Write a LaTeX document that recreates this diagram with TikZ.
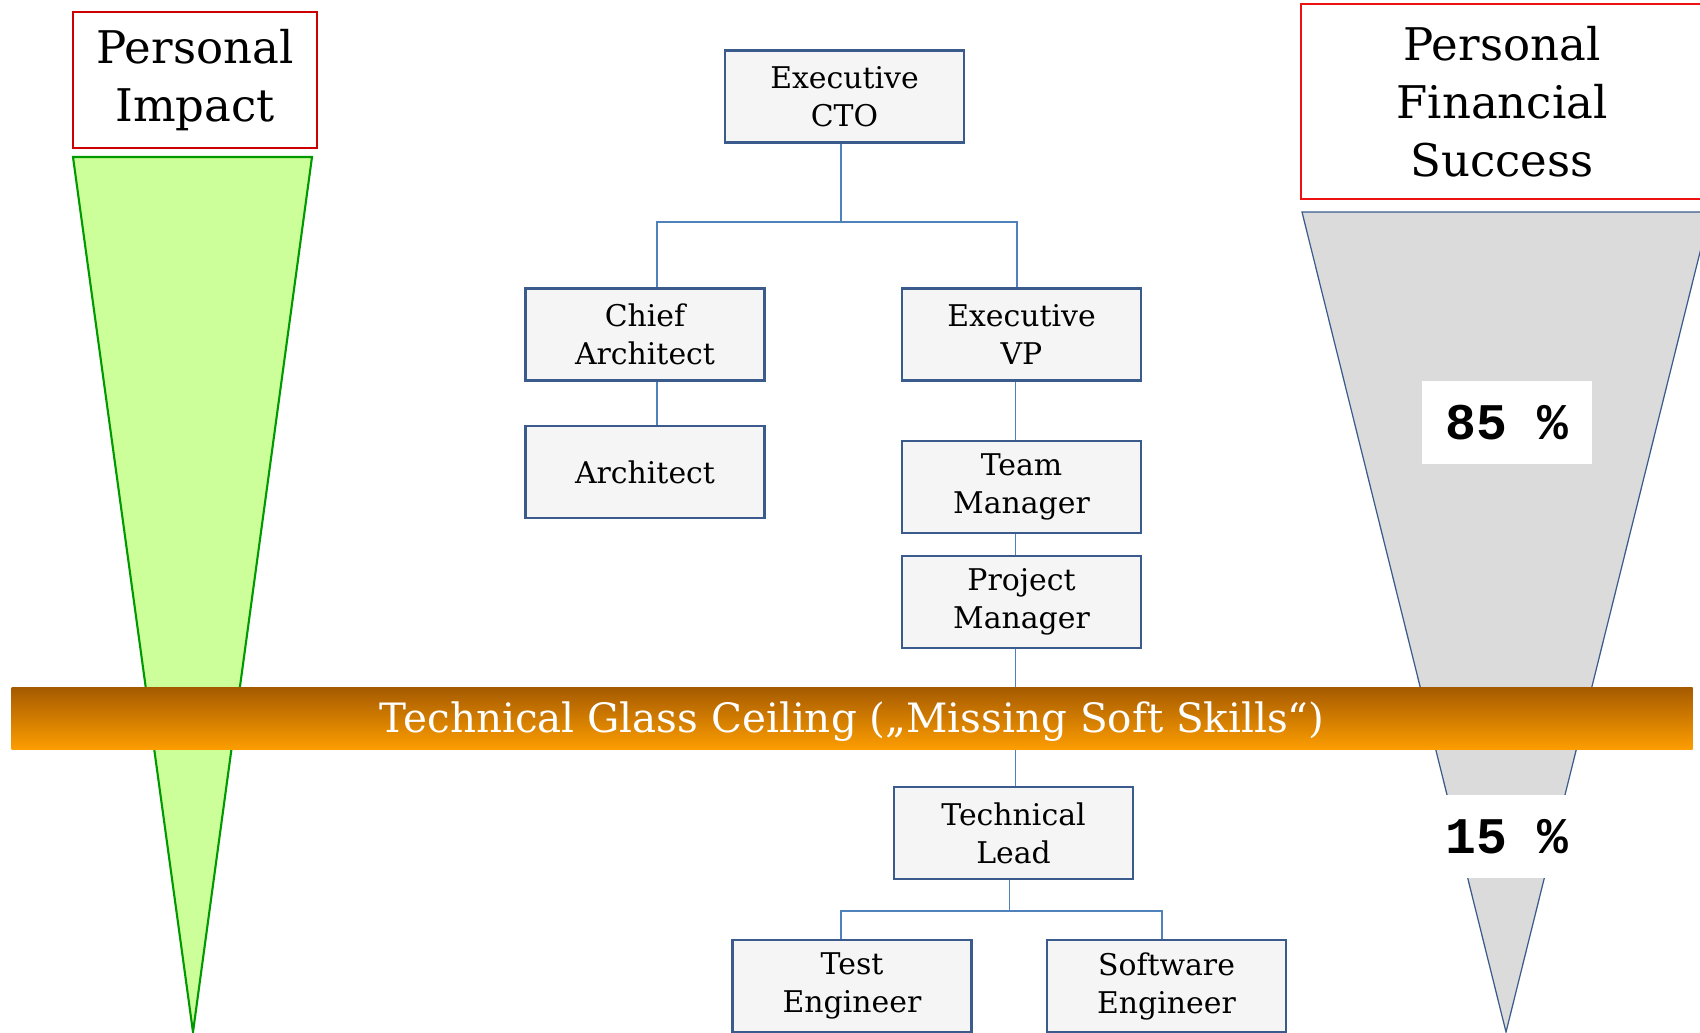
\documentclass[tikz,border=0pt]{standalone}
\usepackage{fontspec}
\setmainfont{DejaVu Serif}
\newfontfamily\pctfont{Liberation Mono}
\usetikzlibrary{positioning}

\definecolor{roleline}{HTML}{3B5B8C}
\definecolor{rolefill}{HTML}{F5F5F5}
\definecolor{linkblue}{HTML}{4F81BD}
\definecolor{impactfill}{HTML}{CCFF99}
\definecolor{impactline}{HTML}{009900}
\definecolor{moneyfill}{HTML}{DBDBDB}
\definecolor{ceilingtop}{HTML}{A55A00}
\definecolor{ceilingbottom}{HTML}{FC9D00}
\definecolor{darkred}{HTML}{CC0000}
\definecolor{brightred}{HTML}{EE1111}

\begin{document}
\begin{tikzpicture}[
  x=0.01cm, y=-0.01cm,
  role/.style={rectangle,draw=roleline,fill=rolefill,line width=0.75pt,
    minimum width=2.39cm,minimum height=0.92cm,inner sep=0pt,align=center,
    font=\fontsize{8.5}{10.8}\selectfont},
  link/.style={draw=linkblue,line width=0.55pt},
  headbox/.style={rectangle,draw,line width=0.6pt,inner sep=0pt,align=center,
    font=\fontsize{12.8}{16.5}\selectfont},
  pct/.style={rectangle,fill=white,inner sep=0pt,minimum width=1.7cm,
    minimum height=0.83cm,font=\pctfont\bfseries\fontsize{14.6}{16}\selectfont}
]
\useasboundingbox (0,0) rectangle (1700,1032);

% funnels
\draw[impactline,fill=impactfill,line width=0.6pt] (73,157) -- (312,157) -- (193,1032) -- cycle;
\draw[roleline,fill=moneyfill,line width=0.35pt] (1302,212) -- (1710,212) -- (1506,1032) -- cycle;

% headings
\node[headbox,draw=darkred,minimum width=2.44cm,minimum height=1.36cm] (impact) at (195,80) {Personal\\Impact};
\node[headbox,draw=brightred,minimum width=4.02cm,minimum height=1.95cm] (success) at (1502,101.5) {Personal\\Financial\\Success};

% org chart
\node[role] (cto)   at (844.5,96.5) {Executive\\CTO};
\node[role] (chief) at (645,334.5)  {Chief\\Architect};
\node[role] (vp)    at (1021.5,334.5) {Executive\\VP};
\node[role] (arch)  at (645,472)    {Architect};
\node[role] (team)  at (1021.5,487) {Team\\Manager};
\node[role] (proj)  at (1021.5,602) {Project\\Manager};
\node[role] (lead)  at (1013.5,833) {Technical\\Lead};
\node[role] (test)  at (852,986)    {Test\\Engineer};
\node[role] (soft)  at (1166.5,986) {Software\\Engineer};

\draw[link] ([xshift=-0.035cm]cto.south) -- ++(0,78) -| ([xshift=0.12cm]chief.north);
\draw[link] ([xshift=-0.035cm]cto.south) -- ++(0,78) -| ([xshift=-0.045cm]vp.north);
\draw[link] ([xshift=0.12cm]chief.south) -- ([xshift=0.12cm]arch.north);

\foreach \a/\b in {vp/team,team/proj,proj/lead}
  \draw[link] ([xshift=-0.06cm]\a.south) -- ([xshift=-0.06cm]\a.south |- \b.north);

\draw[link] ([xshift=-0.04cm]lead.south) -- ++(0,31) -| ([xshift=-0.11cm]test.north);
\draw[link] ([xshift=-0.04cm]lead.south) -- ++(0,31) -| ([xshift=-0.045cm]soft.north);

% glass ceiling
\node[rectangle,inner sep=0pt,minimum width=16.8cm,minimum height=0.62cm,
  top color=ceilingtop,bottom color=ceilingbottom,text=white,
  text height=0.85em,text depth=0pt,
  font=\fontsize{11.5}{13}\selectfont] (ceiling) at (852,718)
  {Technical Glass Ceiling („Missing Soft Skills“)};

% shares
\node[pct] (high) at (1507,422.5) {85 \%};
\node[pct] (low)  at (1507,836.5) {15 \%};

\end{tikzpicture}
\end{document}
